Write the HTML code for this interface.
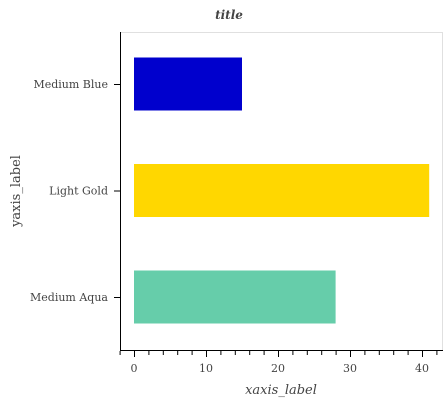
<!DOCTYPE html>
<html><head><meta charset="utf-8"><style>
body{margin:0;background:#fff;width:447px;height:400px;overflow:hidden}
text{font-family:"DejaVu Serif","Liberation Serif",serif}
</style></head><body>
<svg width="447" height="400">
<text x="229" y="19" font-size="12" font-weight="bold" font-style="italic" fill="#444" text-anchor="middle">title</text>
<rect x="120.5" y="32.5" width="322" height="318" fill="none" stroke="#e0e0e0"/>
<g id="bars"></g>
<line x1="120.5" y1="32" x2="120.5" y2="351" stroke="#000"/>
<line x1="120" y1="350.5" x2="443" y2="350.5" stroke="#000"/>
<g id="xticks"></g><g id="yticks"></g>
<text x="281" y="394" font-size="13" font-style="italic" fill="#444" text-anchor="middle">xaxis_label</text>
<text transform="translate(20,191) rotate(-90)" font-size="13" fill="#444" text-anchor="middle">yaxis_label</text>
</svg>
<script>
const categories=["Medium Blue","Light Gold","Medium Aqua"];
const values=[15,41,28];
const colors=["#0000cd","#ffd700","#66cdaa"];
const xTicks=[0,10,20,30,40];
const ns="http://www.w3.org/2000/svg";
const x=v=>134+v*7.2;
const yc=i=>84+i*106.5;
function mk(t,a,p){const e=document.createElementNS(ns,t);for(const k in a)e.setAttribute(k,a[k]);p.appendChild(e);return e;}
const bars=document.getElementById('bars'),xt=document.getElementById('xticks'),yt=document.getElementById('yticks');
categories.forEach((c,i)=>{
 const r=mk('rect',{x:x(0),y:yc(i)-26.5,width:x(values[i])-x(0),height:53,fill:colors[i]},bars);
 
 
 const tk=mk('line',{x1:114,x2:120,y1:yc(i)+.5,y2:yc(i)+.5,stroke:'#000'},yt);
 
 
 const t=mk('text',{x:108,y:yc(i)+4,'font-size':11,fill:'#444','text-anchor':'end'},yt);
 t.textContent=c;
 
 
});
for(let v=-2;v<=42;v+=2){
 const major=v%10===0;
 const l=mk('line',{x1:x(v)+.5,x2:x(v)+.5,y1:351,y2:major?357:355,stroke:'#000'},xt);
 
 
}
xTicks.forEach(v=>{
 const t=mk('text',{x:x(v),y:372,'font-size':11,fill:'#444','text-anchor':'middle'},xt);
 t.textContent=v;
 
 
});
</script>
</body></html>
